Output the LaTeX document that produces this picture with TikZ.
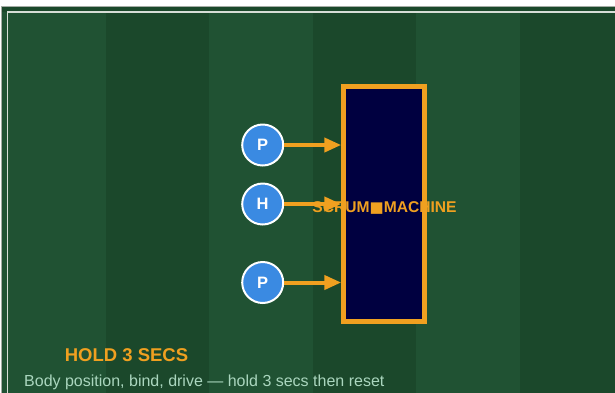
\documentclass[tikz,border=0pt]{standalone}
\usepackage{fontspec}
\setmainfont{Liberation Sans}
\newfontfamily\symfont{DejaVu Sans}
\usetikzlibrary{arrows.meta}
\definecolor{bgdark}{RGB}{27,72,43}
\definecolor{bglight}{RGB}{32,82,51}
\definecolor{outergray}{RGB}{165,172,165}
\definecolor{innerline}{RGB}{215,222,215}
\definecolor{scrumorange}{RGB}{240,160,32}
\definecolor{machinenavy}{RGB}{0,0,64}
\definecolor{playerblue}{RGB}{58,138,226}
\definecolor{captiongreen}{RGB}{170,214,190}
\tikzset{
  player/.style={circle, draw=white, line width=2pt, fill=playerblue, minimum size=41pt, inner sep=0pt, text=white, font=\fontsize{16.5}{16.5}\selectfont\bfseries},
  machinebox/.style={draw=scrumorange, line width=5pt, fill=machinenavy, minimum width=80.5pt, minimum height=235.5pt, inner sep=0pt},
  push/.style={draw=scrumorange, line width=4pt, -{Triangle[length=17pt,width=14pt]}},
}
\begin{document}
\begin{tikzpicture}[x=1pt,y=-1pt]
\useasboundingbox (0,0) rectangle (615,392);
\fill[white] (0,0) rectangle (615,392);
% field
\filldraw[fill=bgdark, draw=outergray, line width=1pt] (1.5,6.5) rectangle (640,420);
\foreach \i in {0,2,4} {
  \fill[bglight] (2.4+\i*103.5,12) rectangle (2.4+\i*103.5+103.5,420);
}
\foreach \i in {1,3,5} {
  \fill[bgdark] (2.4+\i*103.5,12) rectangle (2.4+\i*103.5+103.5,420);
}
\draw[innerline, line width=1.5pt] (7.5,12) rectangle (640,420);
% machine
\node[machinebox] (machine) at (384,204) {};
\node[text=scrumorange, font=\fontsize{15.6}{15.6}\selectfont\bfseries] (label) at (384.5,208) {SCRUM{\symfont\fontsize{15}{15}\selectfont■}MACHINE};
% players
\node[player] (p1) at (262.7,145) {P};
\node[player] (h) at (262.7,204) {H};
\node[player] (p2) at (262.7,282.5) {P};
\draw[push] (p1.east) -- (machine.west |- p1.east);
\draw[push] (h.east) -- (machine.west |- h.east);
\draw[push] (p2.east) -- (machine.west |- p2.east);
% caption
\node[text=scrumorange, font=\fontsize{18.5}{18.5}\selectfont\bfseries] (title) at (126.5,355) {HOLD 3 SECS};
\node[text=captiongreen, font=\fontsize{16}{16}\selectfont, anchor=west, inner sep=0pt] (caption) at (24,382) {Body position, bind, drive — hold 3 secs then reset};
\end{tikzpicture}
\end{document}
